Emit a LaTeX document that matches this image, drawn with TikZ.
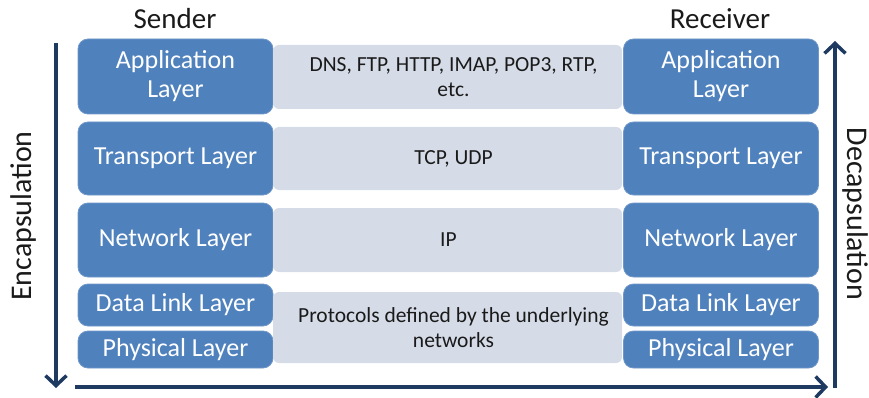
\documentclass[tikz,border=0pt]{standalone}
\usepackage{fontspec}
\setmainfont{Carlito}
\usetikzlibrary{arrows.meta}
\definecolor{layerblue}{HTML}{4F81BD}
\definecolor{layeredge}{HTML}{6F97C9}
\definecolor{protofill}{HTML}{D5DCE8}
\definecolor{arrownavy}{HTML}{1F3A60}
\definecolor{inkgray}{HTML}{1A1A1A}
\tikzset{
  layerbox/.style={rounded corners=10pt, fill=layerblue, draw=layeredge, line width=0.8pt,
    text=white, align=center, inner sep=0pt, minimum width=195pt,
    font=\fontsize{26}{29}\selectfont},
  protobox/.style={rounded corners=6pt, fill=protofill, draw=none,
    inner sep=0pt, minimum width=349pt},
  prototext/.style={text=inkgray, align=center, inner sep=0pt, xshift=6pt,
    font=\fontsize{21.5}{25}\selectfont},
  heading/.style={text=inkgray, inner sep=0pt, font=\fontsize{29}{32}\selectfont},
  sideword/.style={text=inkgray, inner sep=0pt, font=\fontsize{30}{32}\selectfont},
  flow/.style={draw=arrownavy, line width=3.5pt,
    -{Straight Barb[length=10pt, width=21pt]}},
}
\begin{document}
\begin{tikzpicture}[x=1pt, y=-1pt]
  \useasboundingbox (0,0) rectangle (869,398);

  % column headings
  \node[heading] (sender) at (175,19) {Sender};
  \node[heading] (receiver) at (720,19) {Receiver};

  % sender stack
  \node[layerbox, minimum height=75pt] (sapp) at (175.5,76.5) {Application\\Layer};
  \node[layerbox, minimum height=73pt] (stra) at (175.5,158.5) {Transport Layer};
  \node[layerbox, minimum height=74pt] (snet) at (175.5,240) {Network Layer};
  \node[layerbox, minimum height=42pt] (sdl)  at (175.5,305) {Data Link Layer};
  \node[layerbox, minimum height=37pt] (sphy) at (175.5,349.5) {Physical Layer};

  % receiver stack
  \node[layerbox, minimum height=75pt] (rapp) at (721,76.5) {Application\\Layer};
  \node[layerbox, minimum height=73pt] (rtra) at (721,158.5) {Transport Layer};
  \node[layerbox, minimum height=74pt] (rnet) at (721,240) {Network Layer};
  \node[layerbox, minimum height=42pt] (rdl)  at (721,305) {Data Link Layer};
  \node[layerbox, minimum height=37pt] (rphy) at (721,349.5) {Physical Layer};

  % protocols shared by both ends
  \node[protobox, minimum height=64pt] (papp) at (447.5,77) {};
  \node[protobox, minimum height=63pt] (ptra) at (447.5,158.5) {};
  \node[protobox, minimum height=64pt] (pnet) at (447.5,240) {};
  \node[protobox, minimum height=71pt] (plow) at (447.5,327.5) {};
  \node[prototext] (tapp) at (papp) {DNS, FTP, HTTP, IMAP, POP3, RTP,\\etc.};
  \node[prototext] (ttra) at (ptra) {TCP, UDP};
  \node[prototext, xshift=-5pt] (tnet) at (pnet) {IP};
  \node[prototext] (tlow) at (plow) {Protocols defined by the underlying\\networks};

  % direction of travel
  \coordinate (enctop) at (56,43);
  \coordinate (encbot) at (56,388);
  \coordinate (wirel) at (75,387);
  \coordinate (wirer) at (828,387);
  \coordinate (decbot) at (835,388);
  \coordinate (dectop) at (835,41);
  \draw[flow] (enctop) -- (encbot);
  \draw[flow] (wirel) -- (wirer);
  \draw[flow] (decbot) -- (dectop);

  \node[sideword, rotate=90] (enc) at (24,216) {Encapsulation};
  \node[sideword, rotate=-90] (dec) at (855,214) {Decapsulation};
\end{tikzpicture}
\end{document}
